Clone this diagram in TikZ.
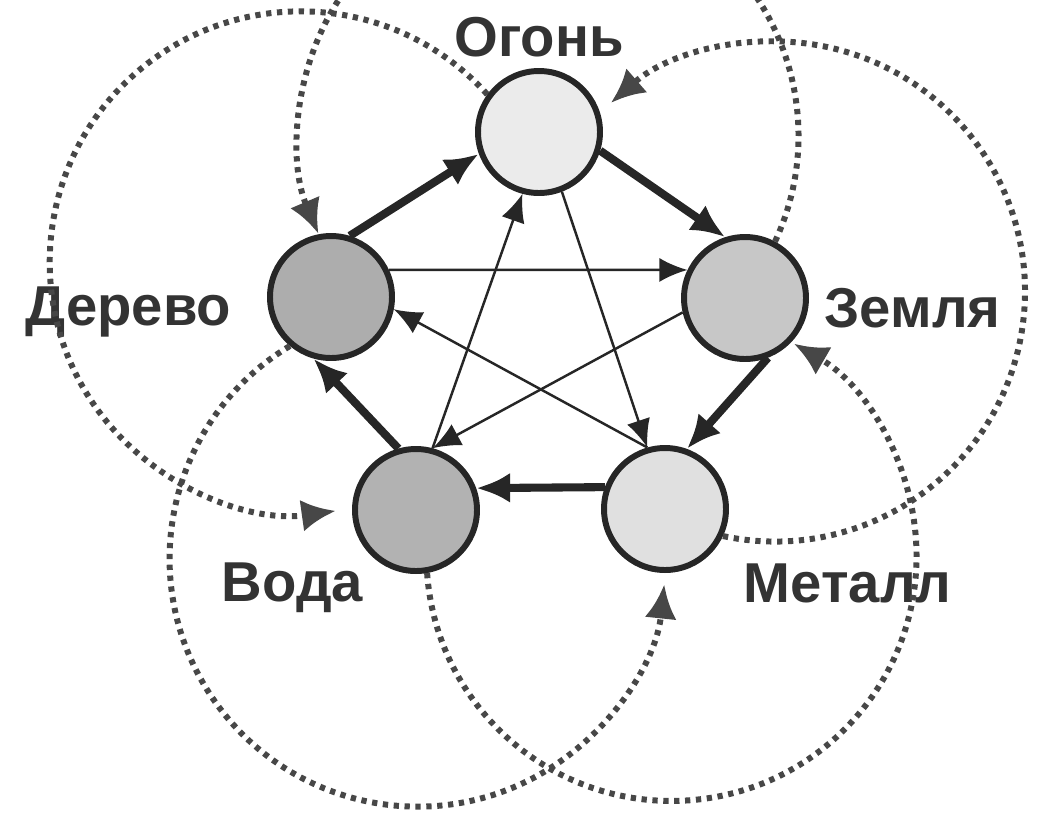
\documentclass[tikz,border=0pt]{standalone}
\usepackage{fontspec}
\setmainfont{Liberation Sans}
\usepackage{xcolor}
\usepackage{tikz}
\usetikzlibrary{positioning,arrows.meta}

\begin{document}
\begin{tikzpicture}[
  elem/.style={draw=black!85, circle, line width=1.7pt, minimum size=1.22cm, inner sep=0pt},
  lbl/.style={inner sep=0pt, text=black!80, font=\bfseries\fontsize{16}{19}\selectfont},
  gen/.style={draw=black!85, line width=2.3pt, -{Latex[length=3.4mm, width=3mm]}},
  ctrl/.style={draw=black!85, line width=0.7pt, -{Latex[length=2.8mm, width=2.4mm]}},
  counter/.style={draw=black!72, line width=1.7pt, dash pattern=on 1.5pt off 1.6pt,
                  -{Latex[length=3.4mm, width=3.2mm]}},
]
\useasboundingbox (0,0) rectangle (10.39,-8.22);
\clip (0,0) rectangle (10.39,-8.22);

% ---------- Elements ----------
\node[elem, fill=black!8]  (fire)  at (5.39,-1.32) {};
\node[elem, fill=black!22] (earth) at (7.45,-2.98) {};
\node[elem, fill=black!12] (metal) at (6.65,-5.09) {};
\node[elem, fill=black!30] (water) at (4.16,-5.10) {};
\node[elem, fill=black!32] (wood)  at (3.31,-2.97) {};

\node[lbl, above=1mm of fire]                            (fireL)  {Огонь};
\node[lbl, right=1.5mm of earth, yshift=-1mm]            (earthL) {Земля};
\node[lbl, below right=0.9mm and 3.3mm of metal.south east] (metalL) {Металл};
\node[lbl, below left=0.7mm and 0.7mm of water.south west]  (waterL) {Вода};
\node[lbl, left=3.5mm of wood, yshift=-1.5mm]            (woodL)  {Дерево};

% ---------- Outer dotted circles ----------
\draw[counter] (earth.62)  arc[start angle=-25, end angle=203, radius=2.5];
\draw[counter] (fire.144)  arc[start angle=42,  end angle=278, radius=2.51];
\draw[counter] (wood.230)  arc[start angle=121, end angle=354, radius=2.48];
\draw[counter] (water.280) arc[start angle=184, end angle=420, radius=2.45];
\draw[counter] (metal.335) arc[start angle=258, end angle=491, radius=2.5];

% ---------- Star ----------
\draw[ctrl] (wood.25)   -- (earth.154);
\draw[ctrl] (earth.193) -- (water.75);
\draw[ctrl] (water.75)  -- (fire.255);
\draw[ctrl] (fire.291)  -- (metal.106);
\draw[ctrl] (metal.106) -- (wood.349);

% ---------- Ring ----------
\draw[gen] (wood.73)   -- (fire.200);
\draw[gen] (fire.343)  -- (earth.108);
\draw[gen] (earth.291) -- (metal.70);
\draw[gen] (metal.160) -- (water.20);
\draw[gen] (water.106) -- (wood.254);

\end{tikzpicture}
\end{document}
